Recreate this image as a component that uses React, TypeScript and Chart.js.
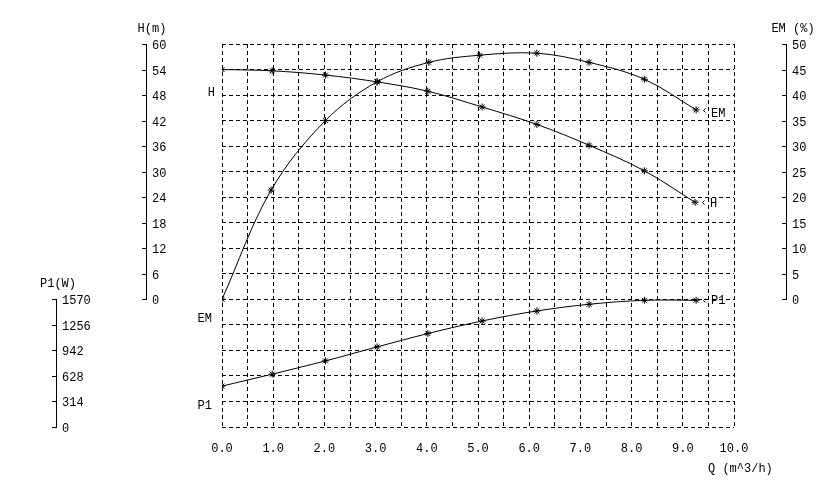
import React, { useEffect, useRef } from "react";
import { Chart, registerables } from "chart.js";

Chart.register(...registerables);

// Flow rate Q (m^3/h) of each measured point
const Q_H = [0, 0.98, 2.02, 3.03, 4.02, 5.08, 6.15, 7.17, 8.25, 9.24];
const H_VALUES = [54, 53.7, 52.7, 51.1, 48.9, 45.2, 41.1, 36.2, 30.2, 22.8];
const Q_EM = [0, 0.96, 2.02, 3.03, 4.04, 5.03, 6.15, 7.17, 8.25, 9.26];
const EM_VALUES = [0, 21.4, 35, 42.6, 46.4, 47.8, 48.2, 46.4, 43.1, 37.1];
const Q_P1 = [0, 0.98, 2.02, 3.03, 4.02, 5.08, 6.15, 7.17, 8.25, 9.26];
const P1_VALUES = [503, 650, 813, 985, 1149, 1304, 1427, 1509, 1558, 1558];

// Axis ticks
const H_TICKS = [0, 6, 12, 18, 24, 30, 36, 42, 48, 54, 60];
const EM_TICKS = [0, 5, 10, 15, 20, 25, 30, 35, 40, 45, 50];
const P1_TICKS = [0, 314, 628, 942, 1256, 1570];
const Q_MAX = 10;

const FONT = "'Liberation Mono', 'DejaVu Sans Mono', monospace";

const toPts = (xs: number[], ys: number[]) => xs.map((x, i) => ({ x, y: ys[i] }));

const overlay = {
  id: "pumpOverlay",
  afterDraw(chart: any) {
    const ctx = chart.ctx;
    const sx = chart.scales.x;
    const yH = chart.scales.yH;
    const yEM = chart.scales.yEM;
    const yP1 = chart.scales.yP1;
    ctx.save();
    ctx.fillStyle = "#000";
    ctx.strokeStyle = "#000";
    ctx.lineWidth = 1;
    ctx.font = `12px ${FONT}`;

    const drawAxis = (scale: any, ticks: number[], xLine: number, title: string, titleX: number, titleY: number) => {
      const top = Math.round(scale.getPixelForValue(ticks[ticks.length - 1]));
      const bot = Math.round(scale.getPixelForValue(ticks[0]));
      ctx.beginPath();
      ctx.moveTo(xLine + 0.5, top);
      ctx.lineTo(xLine + 0.5, bot + 1);
      ctx.stroke();
      ctx.textAlign = "left";
      ctx.textBaseline = "middle";
      ticks.forEach((t) => {
        const py = Math.round(scale.getPixelForValue(t)) + 0.5;
        ctx.beginPath();
        ctx.moveTo(xLine - 4, py);
        ctx.lineTo(xLine + 1, py);
        ctx.stroke();
        ctx.fillText(String(t), xLine + 6, py + 1);
      });
      ctx.textAlign = "center";
      ctx.fillText(title, titleX, titleY);
    };

    drawAxis(yH, H_TICKS, 146, "H(m)", 152, 29);
    drawAxis(yEM, EM_TICKS, 786, "EM (%)", 793, 29);
    drawAxis(yP1, P1_TICKS, 56, "P1(W)", 58, 284);

    // x-axis title
    ctx.textAlign = "left";
    ctx.fillText("Q (m^3/h)", 708, 469);

    // curve labels on the left
    const x0 = sx.getPixelForValue(0);
    ctx.textAlign = "right";
    ctx.fillText("H", x0 - 7, yH.getPixelForValue(48.6));
    ctx.fillText("EM", x0 - 10, yEM.getPixelForValue(-3.9));
    ctx.fillText("P1", x0 - 10, yP1.getPixelForValue(255));

    // curve labels on the right, next to the last point
    const endLabel = (qs: number[], vs: number[], scale: any, text: string, dy: number) => {
      const px = Math.round(sx.getPixelForValue(qs[qs.length - 1]));
      const py = Math.round(scale.getPixelForValue(vs[vs.length - 1]));
      // small chevron right after the marker
      ctx.beginPath();
      ctx.moveTo(px + 9.5, py - 1.5);
      ctx.lineTo(px + 7.5, py + 0.5);
      ctx.lineTo(px + 9.5, py + 2.5);
      ctx.stroke();
      ctx.textAlign = "left";
      ctx.fillText(text, px + 15, py + dy);
    };
    endLabel(Q_EM, EM_VALUES, yEM, "EM", 4);
    endLabel(Q_H, H_VALUES, yH, "H", 2);
    endLabel(Q_P1, P1_VALUES, yP1, "P1", 1);
    ctx.restore();
  },
};

export default function App() {
  const ref = useRef<HTMLCanvasElement | null>(null);

  useEffect(() => {
    if (!ref.current) return;
    const lineDs = (label: string, data: any[], axis: string) => ({
      label,
      data,
      yAxisID: axis,
      borderColor: "#000",
      backgroundColor: "#000",
      borderWidth: 1,
      tension: 0.35,
      pointStyle: "star",
      pointRadius: 3.5,
      pointBorderWidth: 1,
      pointBorderColor: "#000",
      fill: false,
    });
    const hRange = H_TICKS[H_TICKS.length - 1];
    const emRange = EM_TICKS[EM_TICKS.length - 1];
    const p1Range = P1_TICKS[P1_TICKS.length - 1];
    const chart = new Chart(ref.current, {
      type: "line",
      data: {
        datasets: [
          lineDs("H", toPts(Q_H, H_VALUES), "yH"),
          lineDs("EM", toPts(Q_EM, EM_VALUES), "yEM"),
          lineDs("P1", toPts(Q_P1, P1_VALUES), "yP1"),
        ],
      },
      options: {
        responsive: false,
        animation: false,
        devicePixelRatio: 1,
        layout: { padding: { left: 222, right: 102, top: 44, bottom: 0 } },
        plugins: { legend: { display: false }, tooltip: { enabled: false } },
        scales: {
          x: {
            type: "linear",
            min: 0,
            max: Q_MAX,
            afterFit: (s: any) => {
              s.height = 55;
            },
            afterBuildTicks: (s: any) => {
              const t = [];
              for (let i = 0; i <= Q_MAX * 2; i++) t.push({ value: i / 2 });
              s.ticks = t;
            },
            ticks: {
              autoSkip: false,
              maxRotation: 0,
              padding: 15,
              color: "#000",
              font: { family: FONT, size: 12 },
              callback: (v: any) => (Number(v) % 1 === 0 ? Number(v).toFixed(1) : ""),
            },
            grid: { color: "#000", lineWidth: 1, drawTicks: false },
            border: { display: false, dash: [4, 3] },
          },
          g: {
            type: "linear",
            position: "left",
            min: 0,
            max: 15,
            afterFit: (s: any) => {
              s.width = 0;
            },
            afterBuildTicks: (s: any) => {
              const t = [];
              for (let i = 0; i <= 15; i++) t.push({ value: i });
              s.ticks = t;
            },
            ticks: { display: false },
            grid: { color: "#000", lineWidth: 1, drawTicks: false },
            border: { display: false, dash: [4, 3] },
          },
          yH: { type: "linear", display: false, min: -hRange / 2, max: hRange },
          yEM: { type: "linear", display: false, min: -emRange / 2, max: emRange },
          yP1: { type: "linear", display: false, min: 0, max: p1Range * 3 },
        },
      },
      plugins: [overlay],
    } as any);
    return () => chart.destroy();
  }, []);

  return (
    <div style={{ position: "absolute", left: 0, top: 0, width: 836, height: 482, background: "#fff" }}>
      <canvas ref={ref} width={836} height={482} style={{ width: 836, height: 482, display: "block" }} />
    </div>
  );
}
